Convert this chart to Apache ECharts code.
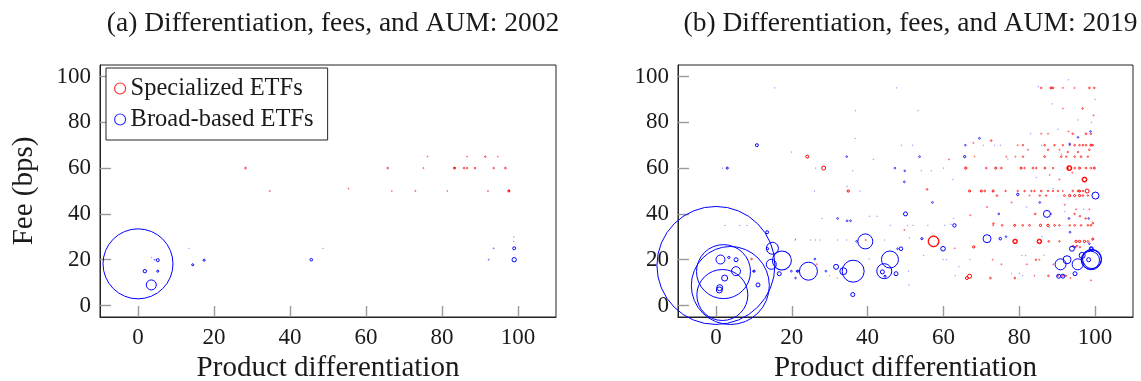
<!DOCTYPE html>
<html>
<head>
<meta charset="utf-8">
<script src="https://cdn.jsdelivr.net/npm/echarts@6/dist/echarts.min.js"></script>
<style>
  html, body { margin: 0; padding: 0; background: #fff; }
  #chart { width: 1141px; height: 381px; }
</style>
</head>
<body>
<div id="chart"></div>
<script>
// panel titles and axis names
const panelTitles = ['(a) Differentiation, fees, and AUM: 2002', '(b) Differentiation, fees, and AUM: 2019'];
const xName = 'Product differentiation';
const yName = 'Fee (bps)';
const diffTicks = [0, 20, 40, 60, 80, 100];
const feeTicks = [0, 20, 40, 60, 80, 100];

// [product differentiation, fee (bps), AUM]
const specialized2002 = [
  [28.3, 60, 0.06], [34.7, 50, 0.03], [55.4, 51, 0.02],
  [76.2, 65, 0.02], [86.6, 65, 0.02], [91.4, 65, 0.04], [94.7, 65, 0.02],
  [65.7, 60, 0.05], [75.1, 60, 0.03], [83.3, 60, 0.07], [85.8, 60, 0.05],
  [86.6, 60, 0.04], [88.7, 60, 0.05], [93.6, 60, 0.04], [96.7, 60, 0.06],
  [66.8, 50, 0.02], [73.0, 50, 0.03], [81.4, 50, 0.02], [92.1, 50, 0.03], [97.6, 50, 0.07]
];

const broad2002 = [
  [0, 18.2, 94.5], [3.5, 9, 1.93], [1.8, 15, 0.22], [5.2, 15, 0.08], [5.2, 19.8, 0.17],
  [3.5, 21, 0.01], [4.4, 20, 0.02], [13.4, 25, 0.01], [14.4, 17.8, 0.08], [17.4, 19.8, 0.08],
  [45.6, 20, 0.13], [48.7, 25, 0.01], [98.9, 29.9, 0.01], [98.9, 28, 0.01], [93.6, 25, 0.02],
  [99, 25, 0.17], [92.3, 20, 0.02], [99, 20, 0.37]
];

const specialized2019 = [
  [24.1, 65, 0.17], [28.4, 60, 0.31], [34.9, 50, 0.1], [57.4, 28, 2.3], [57.4, 28, 1.95],
  [78.9, 28, 0.4], [78.9, 28, 0.25], [85.3, 28, 0.4], [85.3, 28, 0.25], [93.2, 60, 0.48], [93.2, 60, 0.3],
  [97.2, 55, 0.48], [97.2, 55, 0.3], [97.9, 50, 0.31], [66.9, 12.8, 0.31], [66.2, 12, 0.17],
  [68, 25.6, 0.1], [72.4, 12, 0.06], [78.8, 12, 0.06], [39.5, 28.6, 0.03], [9.4, 20.3, 0.05],
  [55.7, 50.7, 0.05], [73.2, 35.8, 0.05], [75.3, 18, 0.03], [71.5, 43, 0.03], [67.1, 39.4, 0.03],
  [61.5, 63.8, 0.03], [67.9, 71, 0.03], [72.6, 72, 0.05], [49.7, 33, 0.03], [26.6, 18, 0.03],
  // 95 bps row
  [85.8, 95, 0.05], [88.4, 95, 0.08], [88.9, 95, 0.06], [91.5, 95, 0.03], [94.6, 95, 0.03], [98.5, 95, 0.06], [99.8, 95, 0.05],
  [96.7, 86, 0.04], [99.6, 83, 0.03], [91.5, 86, 0.02],
  // 75 bps
  [85.8, 75, 0.03], [87.6, 75, 0.03], [94.1, 75, 0.05], [97.6, 75, 0.06], [98.9, 75, 0.05], [93, 76, 0.03],
  // 70 bps
  [79.6, 70, 0.03], [81, 70, 0.04], [86.7, 70, 0.06], [89.3, 70, 0.05], [91.5, 70, 0.04], [93.3, 70, 0.03],
  [94.6, 70, 0.06], [95.9, 70, 0.05], [96.8, 70, 0.06], [97.6, 70, 0.05], [98.9, 70, 0.08], [99.4, 70, 0.05],
  [82.3, 68, 0.03], [87.6, 68, 0.04], [90.6, 68, 0.03], [92.8, 67, 0.04], [95.5, 67, 0.04], [98.5, 68, 0.05],
  // 65 bps
  [68.2, 65, 0.02], [76.6, 65, 0.03], [79, 65, 0.03], [81, 65, 0.04], [86.7, 65, 0.06], [91.1, 65, 0.05],
  [92.4, 65, 0.04], [94.6, 65, 0.05], [96.3, 65, 0.06], [98.1, 65, 0.04],
  // 60 bps
  [65.9, 60, 0.1], [71.3, 60, 0.05], [73.8, 60, 0.08], [75.3, 60, 0.06], [80.5, 60, 0.08], [81.4, 60, 0.04],
  [83.6, 60, 0.06], [84.5, 60, 0.05], [86.7, 60, 0.06], [88.9, 60, 0.04], [92.8, 60, 0.05], [94.6, 60, 0.06],
  [95.9, 60, 0.08], [97.6, 60, 0.06], [98.9, 60, 0.05], [99.8, 60, 0.08],
  [90.6, 55, 0.03], [94, 58, 0.03], [88, 57, 0.02],
  // 50 / 48 bps
  [66.9, 50, 0.08], [70, 50, 0.08], [70.9, 50, 0.06], [73.1, 50, 0.08], [76.4, 50, 0.04], [79.6, 50, 0.04],
  [81.4, 50, 0.05], [83.2, 50, 0.04], [84, 50, 0.04], [85.8, 50, 0.06], [87.6, 50, 0.04], [88.9, 50, 0.04],
  [90.2, 50, 0.04], [91.5, 50, 0.03], [94.1, 50, 0.05], [95.5, 50, 0.06], [95.9, 50, 0.08], [96.8, 50, 0.05],
  [74.1, 48, 0.05], [82.7, 48, 0.03], [85.4, 48, 0.04], [87.1, 48, 0.04], [91.9, 48, 0.06], [93.3, 48, 0.1],
  [94.6, 48, 0.08], [95.9, 48, 0.1], [96.8, 48, 0.05], [98.1, 48, 0.04],
  [78, 45, 0.03], [92, 44, 0.03], [95, 42, 0.03],
  [88.5, 40, 0.03], [94.6, 40, 0.04], [96, 39, 0.04], [97.5, 38, 0.04], [84.2, 40, 0.05], [98.5, 42, 0.03],
  // 35 bps
  [73.1, 35, 0.03], [75.5, 35, 0.05], [78.8, 35, 0.08], [80.9, 35, 0.06], [82.7, 35, 0.06], [85.6, 35, 0.1],
  [87.6, 35, 0.1], [89.3, 35, 0.06], [90.6, 35, 0.05], [93.3, 35, 0.04], [94.6, 35, 0.06], [96.3, 35, 0.05],
  [98.1, 35, 0.05], [98.9, 35, 0.06], [99.4, 36, 0.06],
  // 28 bps and below
  [87.8, 28, 0.06], [90.6, 28, 0.04], [95, 28, 0.1], [97.2, 28, 0.1], [98.1, 28, 0.06], [99.4, 29, 0.08],
  [95.9, 28, 0.1], [94.2, 26, 0.05], [63, 25, 0.02], [96, 25.5, 0.04], [95.2, 26, 0.05],
  [84.4, 20, 0.04], [85.3, 20, 0.03], [89, 18, 0.03], [73, 20, 0.02], [82, 18, 0.03],
  [87.7, 13, 0.05], [90.2, 13, 0.04], [91.5, 13, 0.04], [92.3, 13, 0.04], [98.9, 11, 0.03], [84, 13, 0.02], [93.5, 12, 0.03]
];

const broad2019 = [
  [0, 17.5, 268.6], [3.8, 8.75, 117.4], [2, 14.8, 56.25], [1.7, 4.6, 50.2],
  [1.2, 20.1, 1.56], [5.3, 15, 1.56], [5.3, 20, 0.31], [3.4, 21, 0.1], [2.3, 12, 0.69],
  [1, 7.8, 0.69], [0.9, 6.8, 0.69], [11.1, 9, 0.31], [10.1, 15, 0.08], [9.9, 15, 0.05],
  [13.5, 32, 0.17], [13.6, 24.8, 0.1], [14.9, 25, 2.78], [14.6, 18, 1.93], [17.4, 19.7, 6.96],
  [16.7, 13.9, 0.31], [19.9, 15, 0.06], [21.4, 15, 0.06], [21, 12, 0.05], [10.8, 70, 0.17],
  [3, 60, 0.08], [21.6, 15, 0.08], [24.4, 15, 6.25], [26.1, 20.3, 0.06], [29, 15, 0.06],
  [31.7, 16.9, 0.48], [33.6, 15, 0.95], [36.2, 15, 9.34], [36.1, 4.8, 0.31], [39.4, 28, 4.34],
  [37.1, 28, 0.06], [45.9, 20.1, 5.57], [44.4, 15, 4.34], [43.9, 14.7, 0.31], [44.6, 12.8, 0.08],
  [47.5, 13.9, 0.31], [48.8, 24.8, 0.25], [47.9, 24.8, 0.05], [50, 40, 0.31], [32.1, 38, 0.06],
  [34.6, 37, 0.06], [35.5, 37, 0.06], [34.5, 65, 0.05], [49.7, 54, 0.06], [47.2, 60, 0.05],
  [49.8, 58.8, 0.05], [59.9, 24.8, 0.41], [53.7, 65, 0.06], [65.6, 65, 0.1], [65.8, 70, 0.05],
  [69.5, 73, 0.06], [57.1, 45, 0.06], [74.6, 40, 0.06], [62.9, 35, 0.22], [76.5, 30.1, 0.05],
  [75, 29.2, 0.13], [71.5, 29.2, 1.23], [54.3, 29.2, 0.08], [79.6, 48.5, 0.1], [87.3, 40, 0.95],
  [100.1, 48, 0.95], [99, 20, 7.7], [99.2, 20.3, 6.96], [98.8, 19.8, 6.25], [99, 24.8, 0.31], [99, 24.8, 0.12],
  [90.9, 18, 2.33], [92.6, 20, 1.23], [95.4, 18, 2.33], [96.6, 21.9, 0.69], [93.9, 24.8, 0.48],
  [94.7, 13.9, 0.31], [90.4, 12.8, 0.31], [91.5, 12.8, 0.31], [98.3, 20, 0.31], [94.7, 25.5, 0.05],
  [93.3, 70.5, 0.06], [95.5, 73.4, 0.05], [98.8, 76, 0.05], [85.4, 45, 0.06], [93.1, 38, 0.06],
  [93.4, 32, 0.06], [98.3, 38, 0.05], [98.5, 27, 0.05],
  // faint small funds
  [15.5, 95, 0.01], [36.8, 85, 0.01], [36.7, 73, 0.01], [47.7, 95, 0.01], [19.9, 67, 0.01],
  [1.7, 60, 0.01], [2.4, 35, 0.01], [6.3, 35, 0.01], [8.2, 35, 0.01], [21, 29, 0.01],
  [48.9, 70, 0.01], [51.8, 70, 0.01], [41.5, 63.8, 0.01], [36.1, 58.8, 0.01], [26.3, 60, 0.01],
  [34.6, 52, 0.01], [38, 50, 0.01], [26, 50, 0.01], [40.5, 39, 0.01], [42.5, 39, 0.01],
  [28, 38, 0.01], [50.5, 35, 0.01], [46, 35, 0.01], [20.9, 28.6, 0.01], [25, 28.6, 0.01],
  [26.3, 28.6, 0.01], [27.4, 28.6, 0.01], [32.1, 28.6, 0.01], [34.5, 28.6, 0.01], [44.5, 28.6, 0.01],
  [51, 29.5, 0.01], [30, 13, 0.01], [32, 12, 0.01], [40.4, 20.3, 0.01], [50.9, 9, 0.01],
  [50.8, 15, 0.01], [53.3, 85, 0.01], [54.2, 58.8, 0.01], [56.8, 58.8, 0.01], [62.5, 55, 0.01],
  [62.7, 38, 0.01], [52, 35, 0.01], [55.9, 35, 0.01], [60.3, 35, 0.01], [54.8, 21.9, 0.01],
  [59.9, 20, 0.01], [60.8, 20, 0.01], [64.1, 16.9, 0.01], [63.1, 13, 0.01], [80.9, 13, 0.01],
  [70.5, 70, 0.01], [73.5, 70, 0.01], [75, 70, 0.01], [77, 64, 0.01], [60, 60, 0.01],
  [62, 35.5, 0.01], [58.5, 27, 0.01], [67, 20, 0.01], [78, 14, 0.01], [85, 95.5, 0.01],
  [93, 98.5, 0.01], [88.7, 88, 0.01], [83, 75, 0.01], [85.9, 70, 0.01], [91.2, 66, 0.01],
  [84.5, 56, 0.01], [88.9, 51, 0.01], [82, 43, 0.01], [88, 34, 0.01], [86.5, 22, 0.01],
  [80.7, 21.8, 0.01], [81.7, 21.8, 0.01], [80, 14, 0.01], [86, 30, 0.01], [92, 41, 0.01],
  [97, 42, 0.01], [100, 90, 0.01], [99, 80, 0.01], [95.5, 81, 0.01], [90.2, 77, 0.01], [87, 60, 0.01]
];

const font = "'Liberation Serif', 'DejaVu Serif', serif";
const ink = '#1a1a1a';
const red = '#ff0000';
const blue = '#0000ff';
const pxPerSqrtAum = 3.6; // bubble radius in px per sqrt(AUM)

const chart = echarts.init(document.getElementById('chart'));

const grids = [
  { left: 100, top: 65, width: 456, height: 252 },
  { left: 678, top: 65, width: 455, height: 252 }
];

const tickStyle = { color: '#9a9a9a', width: 1.4 };
const frameStyle = { color: '#222', width: 1 };

function makeX(i) {
  return {
    gridIndex: i, type: 'value', min: -10, max: 110,
    name: xName, nameLocation: 'middle', nameGap: 33,
    nameTextStyle: { fontFamily: font, fontSize: 29, color: ink },
    axisLine: { show: true, onZero: false, lineStyle: frameStyle },
    axisTick: { show: true, inside: true, length: 11, customValues: diffTicks, lineStyle: tickStyle },
    axisLabel: { customValues: diffTicks, margin: 9, fontFamily: font, fontSize: 23, color: ink },
    splitLine: { show: false }
  };
}
function makeY(i) {
  return {
    gridIndex: i, type: 'value', min: -5, max: 105,
    name: i === 0 ? yName : '', nameLocation: 'middle', nameGap: 61,
    nameTextStyle: { fontFamily: font, fontSize: 29, color: ink },
    axisLine: { show: true, onZero: false, lineStyle: frameStyle },
    axisTick: { show: true, inside: true, length: 11, customValues: feeTicks, lineStyle: tickStyle },
    axisLabel: { customValues: feeTicks, margin: 9, fontFamily: font, fontSize: 23, color: ink },
    splitLine: { show: false }
  };
}
function bubbles(name, data, color, i) {
  return {
    name, type: 'scatter', xAxisIndex: i, yAxisIndex: i, data,
    symbol: 'circle',
    symbolSize: (v) => 2 * pxPerSqrtAum * Math.sqrt(v[2]),
    itemStyle: { color: 'transparent', borderColor: color, borderWidth: 1 },
    emphasis: { disabled: true }
  };
}

chart.setOption({
  animation: false,
  backgroundColor: '#fff',
  textStyle: { fontFamily: font },
  title: panelTitles.map((t, i) => ({
    text: t, left: grids[i].left + grids[i].width / 2, top: 5, textAlign: 'center',
    textStyle: { fontFamily: font, fontSize: 27.5, fontWeight: 'normal', color: ink }
  })),
  legend: {
    orient: 'vertical', left: 106, top: 68,
    padding: [8, 14, 8, 8], itemGap: 6,
    itemWidth: 11, itemHeight: 11,
    backgroundColor: '#fff', borderColor: '#222', borderWidth: 1,
    textStyle: { fontFamily: font, fontSize: 24.5, color: ink, lineHeight: 25 },
    data: [
      { name: 'Specialized ETFs', icon: 'circle', itemStyle: { color: 'transparent', borderColor: red, borderWidth: 1.2 } },
      { name: 'Broad-based ETFs', icon: 'circle', itemStyle: { color: 'transparent', borderColor: blue, borderWidth: 1.2 } }
    ]
  },
  // the smallest funds show up only as pale specks
  visualMap: {
    type: 'piecewise', show: false, dimension: 2, seriesIndex: [0, 1, 2, 3],
    pieces: [
      { lt: 0.015, opacity: 0.3 },
      { gte: 0.015, lt: 0.035, opacity: 0.5 },
      { gte: 0.035, lt: 0.07, opacity: 0.75 },
      { gte: 0.07, opacity: 1 }
    ]
  },
  // fixed plot boxes: do not let v6 shrink them to fit labels
  grid: grids.map(g => Object.assign({
    show: true, borderColor: '#222', borderWidth: 1, backgroundColor: 'transparent',
    containLabel: false, outerBoundsMode: 'none'
  }, g)),
  xAxis: [makeX(0), makeX(1)],
  yAxis: [makeY(0), makeY(1)],
  series: [
    bubbles('Specialized ETFs', specialized2002, red, 0),
    bubbles('Broad-based ETFs', broad2002, blue, 0),
    bubbles('Specialized ETFs', specialized2019, red, 1),
    bubbles('Broad-based ETFs', broad2019, blue, 1)
  ]
});
</script>
</body>
</html>
